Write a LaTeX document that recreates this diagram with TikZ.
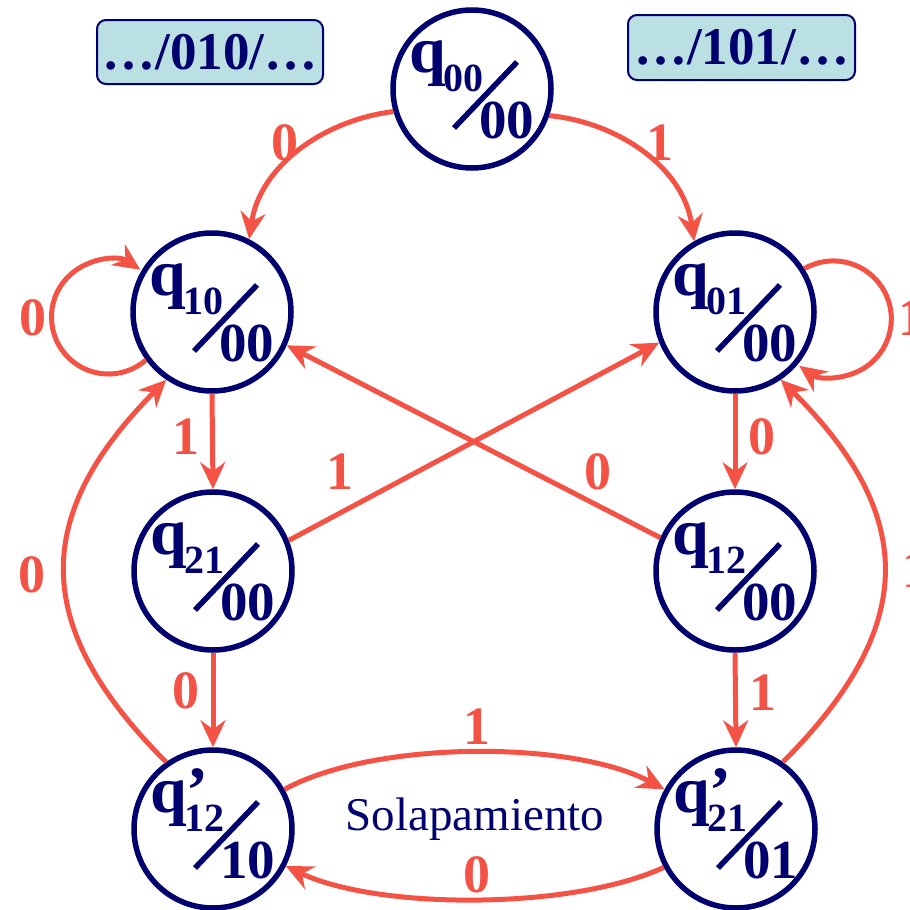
\documentclass[tikz,border=0pt]{standalone}
\usepackage{fontspec}
\setmainfont{Liberation Serif}
\usetikzlibrary{calc,arrows.meta}
\definecolor{navy}{RGB}{0,0,110}
\definecolor{edgered}{RGB}{245,82,70}
\definecolor{boxblue}{RGB}{186,224,228}
\tikzset{
  state/.style={circle,draw=navy,line width=5.5pt,minimum size=158pt,inner sep=0pt},
  qbig/.style={inner sep=0pt,text=navy,font=\fontsize{66}{66}\selectfont\bfseries},
  qsub/.style={inner sep=0pt,text=navy,font=\fontsize{40}{40}\selectfont\bfseries},
  qden/.style={inner sep=0pt,text=navy,font=\fontsize{55}{55}\selectfont\bfseries},
  slash/.style={draw=navy,line width=5.5pt},
  edge/.style={draw=edgered,line width=5pt,-{Stealth[length=27pt,width=25pt,inset=9pt]}},
  lbl/.style={inner sep=0pt,text=edgered,font=\fontsize{54}{54}\selectfont\bfseries},
  seqbox/.style={draw=navy,line width=2pt,fill=boxblue,rounded corners=9pt,inner sep=0pt,
     text=navy,font=\fontsize{53}{53}\selectfont\bfseries},
  note/.style={inner sep=0pt,text=navy,font=\fontsize{47}{47}\selectfont}
}
\newcommand\mkstate[6]{%
  \node[state] (#1) at (#2,#3) {};
  \node[qbig,anchor=base west] (#1q) at ($(#1)+(-63,17)$) {#4};
  \node[qsub,anchor=base west] (#1s) at ($(#1)+(-29,-2)$) {#5};
  \node[qden,anchor=base west] (#1d) at ($(#1)+(7,-49)$) {#6};
  \draw[slash] ($(#1)+(-18,-39)$) -- ($(#1)+(45,27)$);
}
\begin{document}
\begin{tikzpicture}[x=1pt,y=1pt]
\useasboundingbox (0,0) rectangle (910,-910);
% sequence boxes
\node[seqbox,minimum width=226pt,minimum height=64pt] (b1) at (210,-52) {…/010/…};
\node[seqbox,minimum width=227pt,minimum height=65pt] (b2) at (741.5,-47.5) {…/101/…};
% states
\mkstate{q00}{472}{-89}{q}{00}{00}
\mkstate{q10}{212}{-312}{q}{10}{00}
\mkstate{q01}{735}{-312}{q}{01}{00}
\mkstate{q21}{213}{-571}{q}{21}{00}
\mkstate{q12}{735}{-571}{q}{12}{00}
\mkstate{qp12}{213}{-829}{q’}{12}{10}
\mkstate{qp21}{736}{-829}{q’}{21}{01}
% edges
\draw[edge] (q00.196) .. controls (325,-120) and (260,-165) .. (q10.63);
\draw[edge] (q00.341) .. controls (615,-122) and (683,-165) .. (q01.120);
\draw[edge] (q10.216) arc[start angle=-49,end angle=-304,radius=57pt];
\draw[edge] (q01.32) arc[start angle=120,end angle=-126,radius=58pt];
\draw[edge] (q10.south) -- (q21.north);
\draw[edge] (q01.south) -- (q12.north);
\draw[edge] (q21.22) -- (q01.202);
\draw[edge] (q12.156) -- (q10.336);
\draw[edge] (q21.south) -- (qp12.north);
\draw[edge] (q12.south) -- (qp21.north);
\draw[edge] (qp12.125) .. controls (31,-627) and (31,-516) .. (q10.236);
\draw[edge] (qp21.55) .. controls (918,-627) and (918,-516) .. (q01.304);
\draw[edge] (qp12.29) .. controls (375,-740) and (572,-740) .. (qp21.151);
\draw[edge] (qp21.208) .. controls (572,-910) and (378,-910) .. (qp12.333);
% labels
\node[lbl] (l1) at (285,-143) {0};
\node[lbl] (l2) at (660,-143) {1};
\node[lbl] (l3) at (33,-318) {0};
\node[lbl] (l4) at (912,-318) {1};
\node[lbl] (l5) at (186,-437) {1};
\node[lbl] (l6) at (762,-437) {0};
\node[lbl] (l7) at (340,-472) {1};
\node[lbl] (l8) at (598,-472) {0};
\node[lbl] (l9) at (32,-575) {0};
\node[lbl] (l10) at (916,-570) {1};
\node[lbl] (l11) at (186,-691) {0};
\node[lbl] (l12) at (763,-693) {1};
\node[lbl] (l13) at (477,-727) {1};
\node[lbl] (l14) at (477,-875) {0};
\node[note,anchor=base] (sol) at (475,-830) {Solapamiento};
\end{tikzpicture}
\end{document}
